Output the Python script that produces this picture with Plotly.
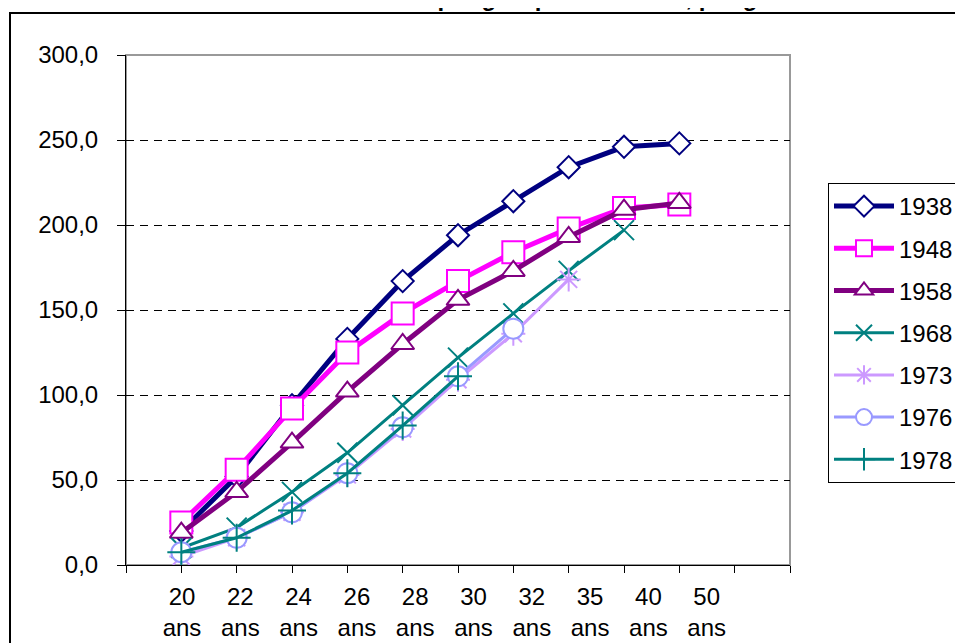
import plotly.graph_objects as go

# ---- data ----
ages = ["20", "22", "24", "26", "28", "30", "32", "35", "40", "50"]
age_suffix = "ans"
y_ticks = [0, 50, 100, 150, 200, 250, 300]
y_ticktext = ["0,0", "50,0", "100,0", "150,0", "200,0", "250,0", "300,0"]

gen_1938 = [20, 52, 94, 133, 167, 194, 214, 234, 246, 248]
gen_1948 = [25, 56, 92, 125, 148, 167, 184, 198, 210, 212]
gen_1958 = [19, 43, 72, 102, 130, 156, 173, 193, 209, 213]
gen_1968 = [10, 22, 43, 66, 94, 122, 148, 173, 197]
gen_1973 = [5, 16, 31, 53, 80, 109, 136, 168]
gen_1976 = [7.5, 16, 31, 54, 81, 111, 139]
gen_1978 = [7.5, 16, 32, 54, 82, 111]

series = [
    ("1938", gen_1938, "#000080", 5, "diamond", 17),
    ("1948", gen_1948, "#FF00FF", 5, "square", 22),
    ("1958", gen_1958, "#800080", 5, "triangle-up", 20),
    ("1968", gen_1968, "#008080", 3, "x-thin", 20),
    ("1973", gen_1973, "#CC99FF", 3, "asterisk", 20),
    ("1976", gen_1976, "#9999FF", 3, "circle", 20),
    ("1978", gen_1978, "#008080", 3, "cross-thin", 20),
]

fig = go.Figure()
for name, vals, color, lw, sym, size in series:
    thin = sym in ("x-thin", "asterisk", "cross-thin")
    fig.add_trace(go.Scatter(
        x=list(range(len(vals))), y=vals, name=name, mode="lines+markers",
        legendgroup=name,
        line=dict(color=color, width=lw),
        marker=dict(symbol=sym, size=size,
                    color=color if thin else "white",
                    line=dict(color=color, width=2)),
    ))

# invisible trace to carry category labels on the overlay axis
fig.add_trace(go.Scatter(x=list(range(len(ages))), y=[None] * len(ages), xaxis="x2",
                         showlegend=False, hoverinfo="skip", mode="markers"))

# page body has an 8px margin; figure is sized to fit the window
W, H = 955, 635
L, T = 118, 47
pw, ph = 664, 510
R, B = W - L - pw, H - T - ph
OFF = 8  # body offset in page pixels


def px_x(page_x):
    return (page_x - OFF - L) / pw


def px_y(page_y):
    return (T + ph - (page_y - OFF)) / ph


lab_step = 58.3
lab0 = 182 - OFF - L

fig.update_layout(
    width=W, height=H,
    margin=dict(l=L, r=R, t=T, b=B, autoexpand=False),
    paper_bgcolor="white", plot_bgcolor="white",
    font=dict(family="Liberation Sans, Arial", size=24, color="black"),
    showlegend=True,
    legend=dict(
        x=px_x(828), y=px_y(183), xanchor="left", yanchor="top",
        bgcolor="white", bordercolor="black", borderwidth=1,
        font=dict(size=24), itemwidth=60, tracegroupgap=8,
    ),
    xaxis=dict(
        range=[-1, 11], tickmode="array", tickvals=list(range(-1, 12)),
        showticklabels=False, ticks="outside", ticklen=7, tickcolor="black",
        showline=True, linecolor="black", linewidth=1, showgrid=False, zeroline=False,
        automargin=False,
    ),
    xaxis2=dict(
        overlaying="x", anchor="y", side="bottom",
        range=[-lab0 / lab_step, -lab0 / lab_step + pw / lab_step],
        tickmode="array", tickvals=list(range(len(ages))),
        ticktext=[a + "<br>" + age_suffix for a in ages],
        ticks="outside", ticklen=10, tickcolor="rgba(0,0,0,0)",
        showline=False, showgrid=False, zeroline=False,
        tickfont=dict(size=24), automargin=False,
    ),
    yaxis=dict(
        range=[0, 300], tickmode="array", tickvals=y_ticks, ticktext=y_ticktext,
        ticks="outside", ticklen=8, tickcolor="black", ticklabelstandoff=14,
        showline=True, linecolor="black", linewidth=1, zeroline=False,
        showgrid=True, gridcolor="black", gridwidth=1, griddash="8px,6px",
        tickfont=dict(size=24), automargin=False,
    ),
    shapes=[
        dict(type="rect", xref="paper", yref="paper", x0=0, x1=1, y0=0, y1=1,
             line=dict(color="#999999", width=2), layer="below"),
        dict(type="rect", xref="paper", yref="paper",
             x0=px_x(10), x1=px_x(990),
             y0=px_y(680), y1=px_y(13),
             line=dict(color="black", width=2)),
    ],
    annotations=[
        dict(text="<b>Descendance atteinte par groupe et cohorte, par génération</b>",
             xref="paper", yref="paper", x=px_x(868), y=px_y(13),
             xanchor="right", yanchor="bottom", showarrow=False,
             font=dict(size=24, color="black")),
    ],
)

fig.write_html("out.html")
